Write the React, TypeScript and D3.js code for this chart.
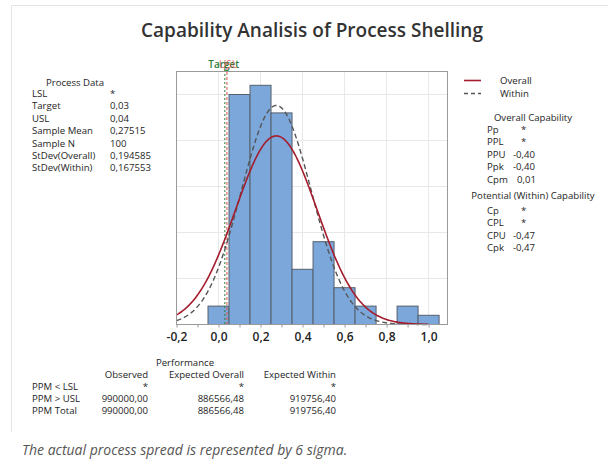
import React, { useRef, useEffect } from 'react';
import * as d3 from 'd3';

// histogram bins (centres) and counts
const binCenters = [0, 0.1, 0.2, 0.3, 0.4, 0.5, 0.6, 0.7, 0.8, 0.9, 1.0];
const binCounts = [2, 25, 26, 23, 6, 9, 4, 2, 0, 2, 1];
const xTicks = [-0.2, 0, 0.2, 0.4, 0.6, 0.8, 1.0];
const yGrid = [5, 10, 15, 20, 25];

const sampleN = 100;
const mean = 0.27515;
const sdOverall = 0.194585;
const sdWithin = 0.167553;
const target = 0.03;
const usl = 0.04;

const processLabels = ['LSL', 'Target', 'USL', 'Sample Mean', 'Sample N', 'StDev(Overall)', 'StDev(Within)'];
const processValues = ['*', '0,03', '0,04', '0,27515', '100', '0,194585', '0,167553'];

const overallLabels = ['Pp', 'PPL', 'PPU', 'Ppk', 'Cpm'];
const overallValues = ['*', '*', '-0,40', '-0,40', '0,01'];
const withinLabels = ['Cp', 'CPL', 'CPU', 'Cpk'];
const withinValues = ['*', '*', '-0,47', '-0,47'];

const perfHeaders = ['Observed', 'Expected Overall', 'Expected Within'];
const perfRows = ['PPM < LSL', 'PPM > USL', 'PPM Total'];
const perfObserved = ['*', '990000,00', '990000,00'];
const perfOverall = ['*', '886566,48', '886566,48'];
const perfWithin = ['*', '919756,40', '919756,40'];

const App = () => {
  const ref = useRef<SVGSVGElement>(null);

  useEffect(() => {
    const width = 608;
    const height = 459;
    const font = "'Open Sans', 'Noto Sans', sans-serif";
    const ink = '#1e1e1e';

    const svg = d3.select(ref.current);
    svg.selectAll('*').remove();
    svg.attr('width', width).attr('height', height).style('font-family', font);

    svg.append('rect').attr('width', width).attr('height', height).attr('fill', '#fff');

    // outer panel border (top + left)
    svg.append('path')
      .attr('d', `M11.5,432 V5.5 H${width}`)
      .attr('fill', 'none').attr('stroke', '#e4e4e4').attr('stroke-width', 1);

    svg.append('text')
      .attr('x', 312).attr('y', 37)
      .attr('text-anchor', 'middle')
      .attr('font-size', 19).attr('font-weight', 600).attr('fill', '#333')
      .text('Capability Analisis of Process Shelling');

    const x = d3.scaleLinear().domain([-0.2, 1.09]).range([176.5, 447.5]);
    const y = d3.scaleLinear().domain([0, 27.5]).range([324.5, 71.5]);
    const [x0, x1] = x.range();
    const [yb, yt] = y.range();

    const plot = svg.append('g');

    // grid
    plot.selectAll('.vg').data(xTicks.slice(1)).join('line')
      .attr('x1', d => x(d)).attr('x2', d => x(d))
      .attr('y1', yt).attr('y2', yb)
      .attr('stroke', '#e8e8e8');
    plot.selectAll('.hg').data(yGrid).join('line')
      .attr('x1', x0).attr('x2', x1)
      .attr('y1', d => y(d)).attr('y2', d => y(d))
      .attr('stroke', '#e8e8e8');

    // bars
    plot.append('g').selectAll('rect')
      .data(binCenters.map((c, i) => ({ c, n: binCounts[i] })).filter(d => d.n > 0))
      .join('rect')
      .attr('x', d => x(d.c - 0.05))
      .attr('width', d => x(d.c + 0.05) - x(d.c - 0.05))
      .attr('y', d => y(d.n))
      .attr('height', d => y(0) - y(d.n))
      .attr('fill', '#7ba7da')
      .attr('stroke', '#56606c')
      .attr('stroke-width', 1);

    // spec lines
    plot.append('line')
      .attr('x1', x(target)).attr('x2', x(target))
      .attr('y1', 62).attr('y2', yb)
      .attr('stroke', '#2f7d3a').attr('stroke-dasharray', '2,2').attr('stroke-width', 1);
    plot.append('line')
      .attr('x1', x(usl)).attr('x2', x(usl))
      .attr('y1', 62).attr('y2', yb)
      .attr('stroke', '#d9534f').attr('stroke-dasharray', '3,2').attr('stroke-width', 1);
    plot.append('text')
      .attr('x', x(target) - 1).attr('y', 68)
      .attr('text-anchor', 'middle').attr('font-size', 10).attr('font-weight', 600)
      .attr('fill', '#2f7d3a').text('Target');
    plot.append('text')
      .attr('x', x(usl) + 1).attr('y', 68)
      .attr('text-anchor', 'middle').attr('font-size', 10)
      .attr('fill', '#d9534f').attr('opacity', 0.8).text('USL');

    // fitted normal curves scaled to counts
    const binW = 0.1;
    const curve = (sd: number) => (v: number) =>
      sampleN * binW * Math.exp(-0.5 * ((v - mean) / sd) ** 2) / (sd * Math.sqrt(2 * Math.PI));
    const xs = d3.range(-0.2, 1.0001, 0.005);
    const line = d3.line<number>().x(d => x(d));

    plot.append('path')
      .attr('d', line.y(d => y(curve(sdWithin)(d)))(xs))
      .attr('fill', 'none').attr('stroke', '#555').attr('stroke-width', 1.4)
      .attr('stroke-dasharray', '5,3');
    plot.append('path')
      .attr('d', line.y(d => y(curve(sdOverall)(d)))(xs))
      .attr('fill', 'none').attr('stroke', '#a51d2d').attr('stroke-width', 1.6);

    // frame
    plot.append('rect')
      .attr('x', x0).attr('y', yt).attr('width', x1 - x0).attr('height', yb - yt)
      .attr('fill', 'none').attr('stroke', '#9a9a9a');

    // x axis
    const axis = d3.axisBottom(x)
      .tickValues(d3.range(-0.2, 1.0001, 0.1))
      .tickSize(3)
      .tickFormat(d => {
        const v = Math.round(+d * 10) / 10;
        if (Math.round(v * 10) % 2 !== 0) return '';
        return (v < 0 ? '-' : '') + Math.abs(v).toFixed(1).replace('.', ',');
      });
    const ax = svg.append('g').attr('transform', `translate(0,${yb})`).call(axis);
    ax.select('.domain').remove();
    ax.selectAll('line').attr('stroke', '#9a9a9a');
    ax.selectAll('text').attr('font-size', 12).attr('font-weight', 600).attr('fill', ink)
      .attr('font-family', font).attr('dy', '0.85em');

    // process data panel
    const fs = 9.6;
    svg.append('text').attr('x', 75).attr('y', 86).attr('text-anchor', 'middle')
      .attr('font-size', fs).attr('fill', ink).text('Process Data');
    const pd = svg.append('g').attr('font-size', fs).attr('fill', ink);
    pd.selectAll('.l').data(processLabels).join('text')
      .attr('x', 32).attr('y', (_, i) => 97 + i * 12.4).text(d => d);
    pd.selectAll('.v').data(processValues).join('text')
      .attr('x', 110).attr('y', (_, i) => 97 + i * 12.4).text(d => d);

    // legend
    const lg = svg.append('g').attr('font-size', fs).attr('fill', ink);
    lg.append('line').attr('x1', 464).attr('x2', 481).attr('y1', 80.5).attr('y2', 80.5)
      .attr('stroke', '#a51d2d').attr('stroke-width', 1.6);
    lg.append('line').attr('x1', 464).attr('x2', 481).attr('y1', 93.5).attr('y2', 93.5)
      .attr('stroke', '#555').attr('stroke-width', 1.4).attr('stroke-dasharray', '4,3');
    lg.append('text').attr('x', 500).attr('y', 84).text('Overall');
    lg.append('text').attr('x', 500).attr('y', 97).text('Within');

    // capability panel
    const cap = svg.append('g').attr('font-size', fs).attr('fill', ink);
    cap.append('text').attr('x', 533).attr('y', 121).attr('text-anchor', 'middle')
      .text('Overall Capability');
    cap.selectAll('.ol').data(overallLabels).join('text')
      .attr('x', 487).attr('y', (_, i) => 133 + i * 12.4).text(d => d);
    cap.selectAll('.ov').data(overallValues).join('text')
      .attr('x', d => (d === '*' ? 521 : d.startsWith('-') ? 513 : 517))
      .attr('y', (_, i) => 133 + i * 12.4).text(d => d);
    cap.append('text').attr('x', 533).attr('y', 199).attr('text-anchor', 'middle')
      .text('Potential (Within) Capability');
    cap.selectAll('.wl').data(withinLabels).join('text')
      .attr('x', 487).attr('y', (_, i) => 214 + i * 12.4).text(d => d);
    cap.selectAll('.wv').data(withinValues).join('text')
      .attr('x', d => (d === '*' ? 521 : 513))
      .attr('y', (_, i) => 214 + i * 12.4).text(d => d);

    // performance table
    const pf = svg.append('g').attr('font-size', fs).attr('fill', ink);
    pf.append('text').attr('x', 185).attr('y', 366).attr('text-anchor', 'middle')
      .text('Performance');
    const colRight = [148, 244, 336];
    pf.selectAll('.h').data(perfHeaders).join('text')
      .attr('x', (_, i) => colRight[i]).attr('y', 378).attr('text-anchor', 'end')
      .text(d => d);
    pf.selectAll('.r').data(perfRows).join('text')
      .attr('x', 32).attr('y', (_, i) => 390 + i * 12).text(d => d);
    [perfObserved, perfOverall, perfWithin].forEach((col, c) => {
      pf.selectAll(`.c${c}`).data(col).join('text')
        .attr('x', colRight[c]).attr('y', (_, i) => 390 + i * 12)
        .attr('text-anchor', 'end').text(d => d);
    });

    svg.append('text')
      .attr('x', 22).attr('y', 455)
      .attr('font-size', 14).attr('font-style', 'italic').attr('fill', '#555')
      .text('The actual process spread is represented by 6 sigma.');
  }, []);

  return <svg ref={ref} style={{ position: 'absolute', left: 0, top: 0 }} />;
};

export default App;
